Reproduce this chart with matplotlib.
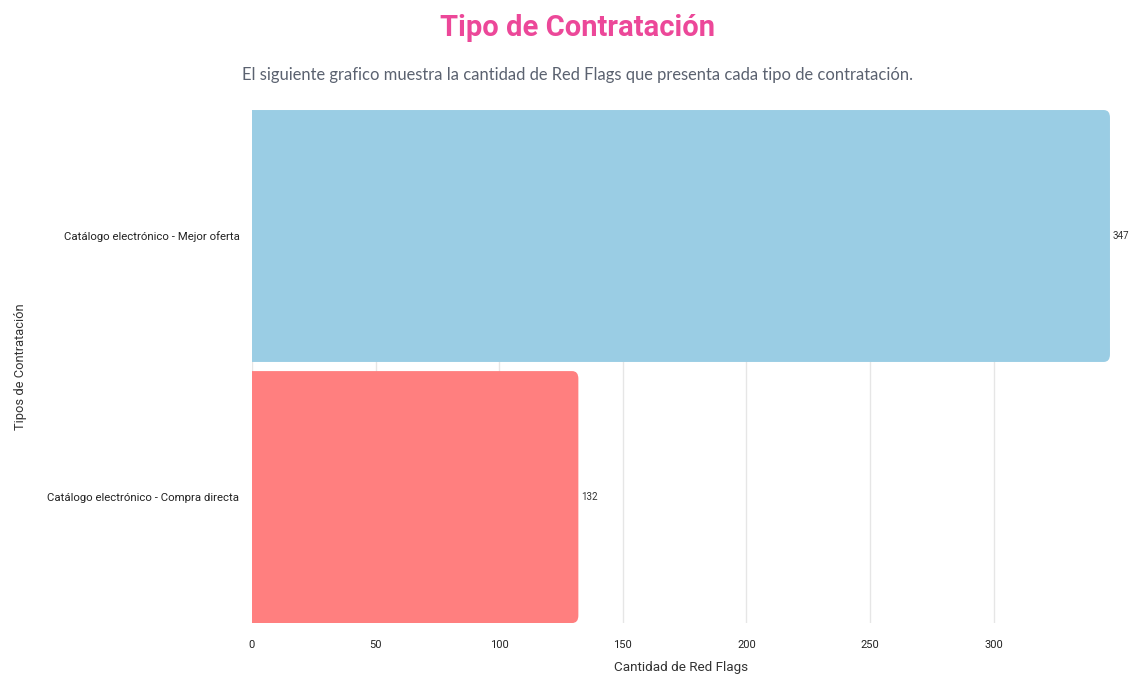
import matplotlib.pyplot as plt
from matplotlib.patches import FancyBboxPatch

categories = ['Catálogo electrónico - Mejor oferta', 'Catálogo electrónico - Compra directa']
values = [347, 132]
colors = ['#9ACDE4', '#FF7F7F']
xticks = [0, 50, 100, 150, 200, 250, 300]

plt.rcParams['font.family'] = ['Roboto', 'DejaVu Sans']

fig = plt.figure(figsize=(11.31, 6.75), dpi=100)
ax = fig.add_axes([0.2228, 0.077, 0.7586, 0.760])

ypos = list(range(len(categories)))[::-1]
bars = ax.barh(ypos, values, height=0.965, color=colors)

# swap square bars for ones with rounded right corners
for b in bars:
    x0, y0 = b.get_x(), b.get_y()
    w, h = b.get_width(), b.get_height()
    b.set_visible(False)
    p = FancyBboxPatch((x0 - 3, y0), w + 3, h,
                       boxstyle='round,pad=0,rounding_size=2.5',
                       mutation_aspect=0.0115,
                       facecolor=b.get_facecolor(), edgecolor='none',
                       zorder=2)
    ax.add_patch(p)
    ax.text(w + 1, y0 + h * 0.5, str(int(w)), va='center', ha='left',
            fontsize=7, color='#333333')

ax.set_xlim(0, max(values))
ax.set_ylim(-0.4825, 1.4825)
ax.set_yticks(ypos)
ax.set_yticklabels(categories, fontsize=8.2, color='#222222')
ax.set_xticks(xticks)
ax.set_xticklabels([str(t) for t in xticks], fontsize=8, color='#222222')
ax.tick_params(length=0)
ax.tick_params(axis='y', pad=9)
ax.tick_params(axis='x', pad=12)
ax.grid(True, axis='x', color='#E6E6E6', linewidth=1)
ax.set_axisbelow(True)
for s in ax.spines.values():
    s.set_visible(False)

ax.set_xlabel('Cantidad de Red Flags', fontsize=9.7, color='#333333', labelpad=8)
ax.set_ylabel('Tipos de Contratación', fontsize=9.3, color='#333333')
ax.yaxis.set_label_coords(-0.262, 0.5)

fig.text(0.511, 0.958, 'Tipo de Contratación', ha='center', va='center',
         fontsize=21, fontweight='bold', color='#EC4899')
fig.text(0.511, 0.889,
         'El siguiente grafico muestra la cantidad de Red Flags que presenta cada tipo de contratación.',
         ha='center', va='center', fontsize=11.9, color='#5B6270',
         family=['Lato', 'DejaVu Sans'])

fig.savefig('out.png', dpi=100, facecolor='white')
